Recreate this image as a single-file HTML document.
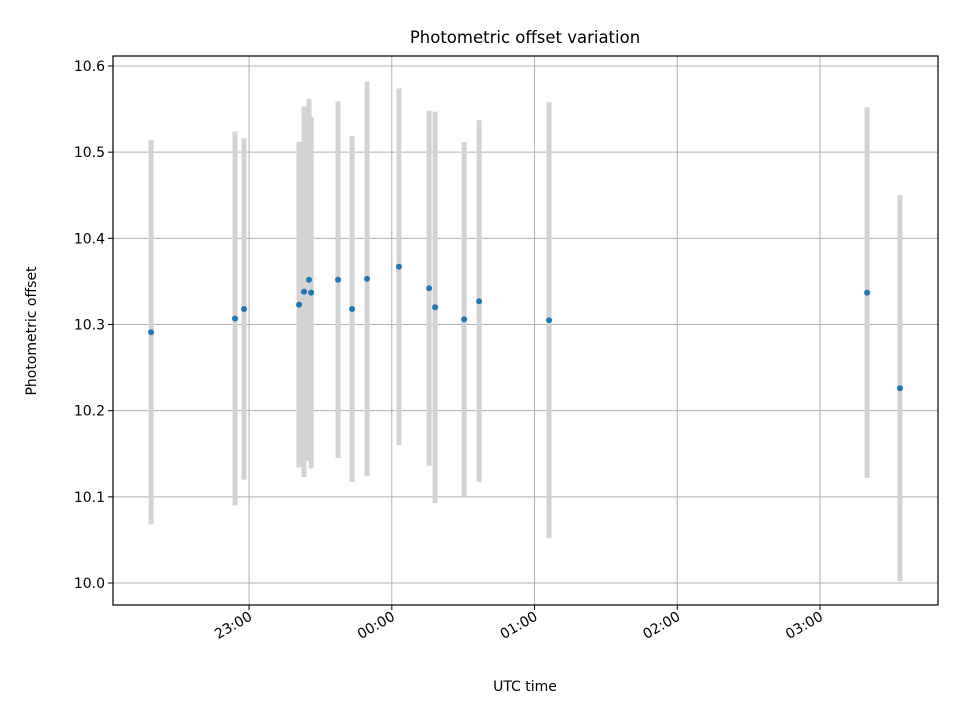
<!DOCTYPE html>
<html><head><meta charset="utf-8"><style>
html,body{margin:0;padding:0;background:#fff;}
svg text{font-family:"DejaVu Sans","Liberation Sans",sans-serif;fill:#000;}
</style></head><body>
<svg id="chart" width="960" height="720" viewBox="0 0 960 720" xmlns="http://www.w3.org/2000/svg">
<rect width="960" height="720" fill="#fff"/>
<g id="grid"></g>
<g id="bars"></g>
<g id="pts"></g>
<rect x="113" y="56" width="825" height="549" fill="none" stroke="#000" stroke-width="1.2"/>
<g id="ticks"></g>
<text x="525" y="43" font-size="16.5" text-anchor="middle">Photometric offset variation</text>
<text x="525" y="691" font-size="14" text-anchor="middle">UTC time</text>
<text x="36" y="331" font-size="14" text-anchor="middle" transform="rotate(-90 36 331)">Photometric offset</text>
</svg>
<script>
const times=["22:18:48","22:54:06","22:57:54","23:21:00","23:23:06","23:25:12","23:26:06","23:37:24","23:43:18","23:49:36","00:03:00","00:15:42","00:18:12","00:30:24","00:36:42","01:06:06","03:19:48","03:33:36"];
const offsets=[10.291,10.307,10.318,10.323,10.338,10.352,10.337,10.352,10.318,10.353,10.367,10.342,10.320,10.306,10.327,10.305,10.337,10.226];
const errors=[0.223,0.217,0.198,0.189,0.215,0.210,0.204,0.207,0.201,0.229,0.207,0.206,0.227,0.206,0.210,0.253,0.215,0.224];
const yTicks=[10.0,10.1,10.2,10.3,10.4,10.5,10.6];
const xTickLabels=["23:00","00:00","01:00","02:00","03:00"];
const NS="http://www.w3.org/2000/svg";
function mins(s){const p=s.split(":").map(Number);let h=p[0];if(h<12)h+=24;return (h-23)*60+p[1]+(p[2]||0)/60;}
const X0=113,X1=938,Y0=56,Y1=605;
const xMin=-57.2,xMax=289.6;
function xs(m){return X0+(m-xMin)/(xMax-xMin)*(X1-X0);}
function ys(v){return 583-(v-10.0)*(517/0.6);}
function el(t,a,parent){const e=document.createElementNS(NS,t);for(const k in a)e.setAttribute(k,a[k]);document.getElementById(parent).appendChild(e);return e;}
yTicks.forEach(v=>{const y=ys(v);
 const g=el("line",{x1:X0,x2:X1,y1:y,y2:y,stroke:"#b0b0b0","stroke-width":1},"grid");
 
 
 const t=el("line",{x1:X0-5,x2:X0,y1:y,y2:y,stroke:"#000","stroke-width":1},"ticks");
 
 
 const l=el("text",{x:X0-8,y:y+5,"font-size":14,"text-anchor":"end"},"ticks");
 l.textContent=v.toFixed(1);
 
 
});
xTickLabels.forEach(s=>{const x=xs(mins(s));
 const g=el("line",{x1:x,x2:x,y1:Y0,y2:Y1,stroke:"#b0b0b0","stroke-width":1},"grid");
 
 
 const t=el("line",{x1:x,x2:x,y1:Y1,y2:Y1+5,stroke:"#000","stroke-width":1},"ticks");
 
 
 const l=el("text",{x:x+1,y:620,"font-size":14,"text-anchor":"end",transform:`rotate(-30 ${x+1} 614)`},"ticks");
 l.textContent=s;
 
 
});
times.forEach((s,i)=>{const x=xs(mins(s));
 const b=el("line",{x1:x,x2:x,y1:ys(offsets[i]+errors[i]),y2:ys(offsets[i]-errors[i]),stroke:"#d3d3d3","stroke-width":5},"bars");
 
 
});
times.forEach((s,i)=>{const x=xs(mins(s));
 const c=el("circle",{cx:x,cy:ys(offsets[i]),r:3,fill:"#1f77b4"},"pts");
 
 
});
</script>
</body></html>
